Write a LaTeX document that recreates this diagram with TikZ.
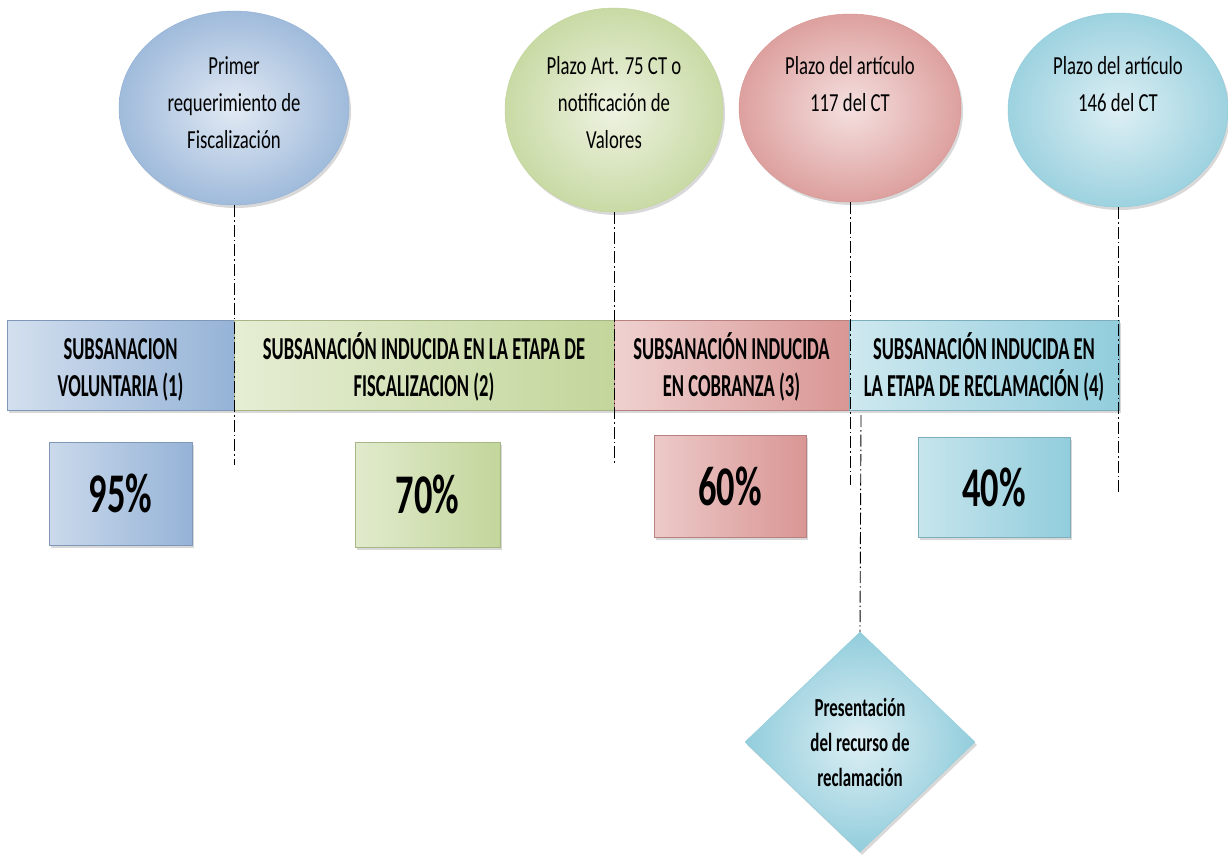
\documentclass[tikz,border=0pt]{standalone}
\usepackage{fontspec}
\setmainfont{Carlito}[FakeStretch=0.62]
\newfontfamily\barfont{Carlito}[FakeStretch=0.58]
\newfontfamily\bubfont{Carlito}[FakeStretch=0.72]
\newfontfamily\pctfont{Carlito}[FakeStretch=0.65]
\newfontfamily\dmfont{Carlito}[FakeStretch=0.65]
\newcommand{\mybarlines}[2]{\rule{0pt}{34pt}#1\\#2\rule[-8pt]{0pt}{8pt}}
\usetikzlibrary{shapes.geometric,shadows}
\definecolor{bluD}{HTML}{95B3D7}
\definecolor{bluL}{HTML}{E2EAF4}
\definecolor{grnD}{HTML}{C3D69B}
\definecolor{grnL}{HTML}{EEF3E2}
\definecolor{redD}{HTML}{D99694}
\definecolor{redL}{HTML}{F4E0DF}
\definecolor{cyaD}{HTML}{92CDDC}
\definecolor{cyaL}{HTML}{DDEFF4}
\tikzset{
  shd/.style={drop shadow={opacity=0.3,shadow xshift=2pt,shadow yshift=-3pt}},
  bubble/.style={ellipse, draw=#1D, line width=0.5pt, inner color=#1L, outer color=#1D!90!white, shd, inner sep=0pt},
  bubtext/.style={align=center, font=\bubfont\fontsize{26}{37}\selectfont, inner sep=0pt},
  barbox/.style={rectangle, draw=#1D!85!black, line width=0.5pt, left color=#1L!80!#1D, middle color=#1L, right color=#1D, shd, minimum height=90pt, inner sep=0pt, align=center, font=\barfont\bfseries\fontsize{32}{37}\selectfont},
  pctbox/.style={rectangle, draw=#1D!85!black, line width=0.5pt, left color=#1L!70!#1D, middle color=#1L, right color=#1D, shd, inner sep=0pt, font=\pctfont\bfseries\fontsize{56}{60}\selectfont},
  dd/.style={line width=0.9pt, black, dash pattern=on 12pt off 3pt on 1.5pt off 3pt}
}
\begin{document}
\begin{tikzpicture}[x=1pt,y=-1pt]
\fill[white] (0,0) rectangle (1228,854);
\useasboundingbox (0,0) rectangle (1228,854);

% top ellipses
\node[bubble=blu, minimum width=230pt, minimum height=194pt] (e1) at (234,108) {};
\node[bubble=grn, minimum width=218pt, minimum height=204pt] (e2) at (614,110) {};
\node[bubble=red, minimum width=222pt, minimum height=188pt] (e3) at (850,108) {};
\node[bubble=cya, minimum width=220pt, minimum height=194pt] (e4) at (1118,110) {};
\node[bubtext] (t1) at (234,103) {Primer\\requerimiento de\\Fiscalización};
\node[bubtext] (t2) at (614,103) {Plazo Art. 75 CT o\\notificación de\\Valores};
\node[bubtext] (t3) at (850,84) {Plazo del artículo\\117 del CT};
\node[bubtext] (t4) at (1118,84) {Plazo del artículo\\146 del CT};

% free ends of the guide lines
\coordinate (c1) at (234,465);
\coordinate (c2) at (614,465);
\coordinate (c3) at (850,485);
\coordinate (c3b) at (861,415);
\coordinate (c4) at (1118,493);

% stage bars
\node[barbox=blu, minimum width=227pt] (b1) at (120.5,365) {\mybarlines{SUBSANACION}{VOLUNTARIA (1)}};
\node[barbox=grn, minimum width=380pt] (b2) at (424,365) {\mybarlines{SUBSANACIÓN INDUCIDA EN LA ETAPA DE}{FISCALIZACION (2)}};
\node[barbox=red, minimum width=235pt] (b3) at (731.5,365) {\mybarlines{SUBSANACIÓN INDUCIDA}{EN COBRANZA (3)}};
\node[barbox=cya, minimum width=270pt] (b4) at (984,365) {\mybarlines{SUBSANACIÓN INDUCIDA EN}{LA ETAPA DE RECLAMACIÓN (4)}};

% percentage boxes
\node[pctbox=blu, minimum width=143pt, minimum height=103pt] (p1) at (120.5,493.5) {95\%};
\node[pctbox=grn, minimum width=145pt, minimum height=105pt] (p2) at (427.5,494.5) {70\%};
\node[pctbox=red, minimum width=152pt, minimum height=102pt] (p3) at (730,486) {60\%};
\node[pctbox=cya, minimum width=152pt, minimum height=100pt] (p4) at (994,487) {40\%};

% diamond
\node[diamond, draw=cyaD, line width=0.5pt, inner color=cyaL, outer color=cyaD, shd,
      minimum width=230pt, minimum height=220pt, inner sep=0pt, align=center,
      font=\dmfont\bfseries\fontsize{26}{35}\selectfont] (dm) at (860,742) {Presentación\\del recurso de\\reclamación};

% guide lines
\draw[dd] (e1.south) -- (c1);
\draw[dd] (e2.south) -- (c2);
\draw[dd] (e3.south) -- (c3);
\draw[dd] (c3b) -- (dm.north);
\draw[dd] (e4.south) -- (c4);
\end{tikzpicture}
\end{document}
